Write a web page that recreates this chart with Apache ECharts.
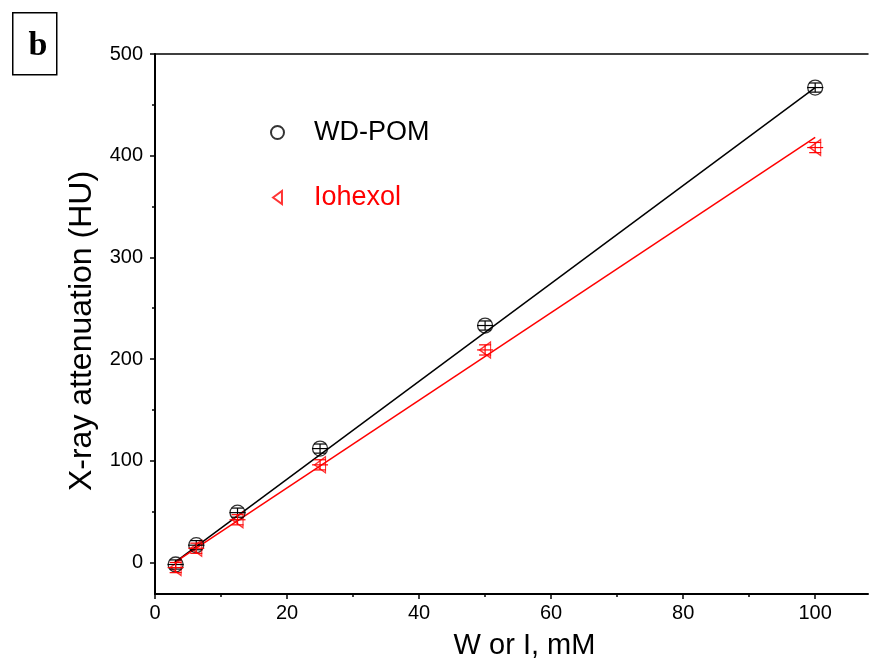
<!DOCTYPE html>
<html>
<head>
<meta charset="utf-8">
<script src="https://cdn.jsdelivr.net/npm/echarts@6/dist/echarts.min.js"></script>
<style>
  html, body { margin: 0; padding: 0; background: #fff; }
  #chart { width: 870px; height: 659px; }
</style>
</head>
<body>
<div id="chart"></div>
<script>
// concentration of W or I (mM)
var conc = [3.125, 6.25, 12.5, 25, 50, 100];
var wdPom = [-2, 17, 49, 112, 233, 467];
var iohexol = [-5, 14, 42, 96, 209, 408];
var wdErr = [4.5, 4.5, 4.5, 4.5, 4.5, 4.5];
var ioErr = [5, 5, 5, 5, 5, 5];

// fitted lines
var fitX = [3, 100];
var fitWd = [0, 467];
var fitIo = [0, 418];

var xTicks = [0, 20, 40, 60, 80, 100];
var xMinor = [10, 30, 50, 70, 90];
var yTicks = [0, 100, 200, 300, 400, 500];
var yMinor = [50, 150, 250, 350, 450];

var FONT = 'Liberation Sans, Arial, sans-serif';
var triPath = 'path://M0,8 L11,0 L11,16 Z';

function pairs(xs, ys, es) {
  var res = [];
  for (var i = 0; i < xs.length; i++) {
    res.push(es ? [xs[i], ys[i], es[i]] : [xs[i], ys[i]]);
  }
  return res;
}

// error bar: vertical bar with caps + short horizontal bar
function errRender(color) {
  return function (params, api) {
    var x = api.value(0), y = api.value(1), e = api.value(2);
    var c = api.coord([x, y]);
    var hi = api.coord([x, y + e]);
    var lo = api.coord([x, y - e]);
    var st = { stroke: color, lineWidth: 1.2 };
    return {
      type: 'group',
      children: [
        { type: 'line', shape: { x1: c[0], y1: hi[1], x2: c[0], y2: lo[1] }, style: st },
        { type: 'line', shape: { x1: c[0] - 6, y1: hi[1], x2: c[0] + 6, y2: hi[1] }, style: st },
        { type: 'line', shape: { x1: c[0] - 6, y1: lo[1], x2: c[0] + 6, y2: lo[1] }, style: st },
        { type: 'line', shape: { x1: c[0] - 8, y1: c[1], x2: c[0] + 8, y2: c[1] }, style: st }
      ]
    };
  };
}

var myChart = echarts.init(document.getElementById('chart'), null, { renderer: 'canvas' });

var option = {
  animation: false,
  backgroundColor: '#fff',
  textStyle: { fontFamily: FONT },
  grid: { left: 155, top: 54, right: 2, bottom: 65, containLabel: false, outerBoundsMode: 'none' },
  legend: {
    orient: 'vertical',
    left: 265,
    top: 114,
    itemGap: 38,
    itemWidth: 13,
    itemHeight: 13,
    textStyle: { fontSize: 27, fontFamily: FONT, padding: [0, 0, 0, 25] },
    data: [
      { name: 'WD-POM', textStyle: { color: '#000' } },
      { name: 'Iohexol', textStyle: { color: '#ff0000' }, icon: triPath }
    ]
  },
  xAxis: [
    {
      type: 'value', min: 0, max: 108, position: 'bottom',
      name: 'W or I, mM', nameLocation: 'middle', nameGap: 37,
      nameTextStyle: { fontSize: 29, color: '#000', fontFamily: FONT, padding: [0, 0, 0, 26] },
      axisLine: { show: true, onZero: false, lineStyle: { color: '#000', width: 2 } },
      axisTick: { show: true, length: 5, customValues: xTicks, lineStyle: { color: '#000', width: 1.5 } },
      axisLabel: { customValues: xTicks, fontSize: 20, color: '#000', margin: 9, fontFamily: FONT },
      splitLine: { show: false }
    },
    {
      type: 'value', min: 0, max: 108, position: 'bottom',
      axisLine: { show: false, onZero: false },
      axisTick: { show: true, length: 3, customValues: xMinor, lineStyle: { color: '#000', width: 1.5 } },
      axisLabel: { show: false },
      splitLine: { show: false }
    },
    {
      type: 'value', min: 0, max: 108, position: 'top',
      axisLine: { show: true, onZero: false, lineStyle: { color: '#000', width: 1.5 } },
      axisTick: { show: false },
      axisLabel: { show: false },
      splitLine: { show: false }
    }
  ],
  yAxis: [
    {
      type: 'value', min: -31, max: 500, position: 'left',
      name: 'X-ray attenuation (HU)', nameLocation: 'middle', nameGap: 57, nameRotate: 90,
      nameTextStyle: { fontSize: 32, color: '#000', fontFamily: FONT, padding: [0, 14, 0, 0] },
      axisLine: { show: true, onZero: false, lineStyle: { color: '#000', width: 2 } },
      axisTick: { show: true, length: 5, customValues: yTicks, lineStyle: { color: '#000', width: 1.5 } },
      axisLabel: { customValues: yTicks, fontSize: 20, color: '#000', margin: 12, fontFamily: FONT },
      splitLine: { show: false }
    },
    {
      type: 'value', min: -31, max: 500, position: 'left',
      axisLine: { show: false, onZero: false },
      axisTick: { show: true, length: 3, customValues: yMinor, lineStyle: { color: '#000', width: 1.5 } },
      axisLabel: { show: false },
      splitLine: { show: false }
    }
  ],
  series: [
    {
      name: 'fitWd', type: 'line', data: pairs(fitX, fitWd), symbol: 'none',
      lineStyle: { color: '#000', width: 1.5 }, silent: true, z: 2
    },
    {
      name: 'fitIo', type: 'line', data: pairs(fitX, fitIo), symbol: 'none',
      lineStyle: { color: '#ff0000', width: 1.5 }, silent: true, z: 2
    },
    {
      name: 'WD-POM', type: 'scatter', data: pairs(conc, wdPom),
      symbol: 'circle', symbolSize: 15,
      itemStyle: { color: 'rgba(0,0,0,0)', borderColor: '#000', borderWidth: 1.3 }, z: 3
    },
    {
      name: 'Iohexol', type: 'scatter', data: pairs(conc, iohexol),
      symbol: triPath, symbolSize: [11, 16],
      itemStyle: { color: 'rgba(0,0,0,0)', borderColor: '#ff0000', borderWidth: 1.3 }, z: 3
    },
    {
      name: 'wdErr', type: 'custom', data: pairs(conc, wdPom, wdErr),
      renderItem: errRender('#000'), silent: true, z: 4
    },
    {
      name: 'ioErr', type: 'custom', data: pairs(conc, iohexol, ioErr),
      renderItem: errRender('#ff0000'), silent: true, z: 4
    }
  ],
  graphic: [
    {
      type: 'rect', left: 12, top: 12,
      shape: { width: 44, height: 62 },
      style: { fill: '#fff', stroke: '#000', lineWidth: 1.5 }
    },
    {
      type: 'text', x: 38, y: 46,
      style: {
        text: 'b', fill: '#000', font: 'bold 34px "Liberation Serif", "Times New Roman", serif',
        textAlign: 'center', textVerticalAlign: 'middle'
      }
    }
  ]
};

myChart.setOption(option);
</script>
</body>
</html>
